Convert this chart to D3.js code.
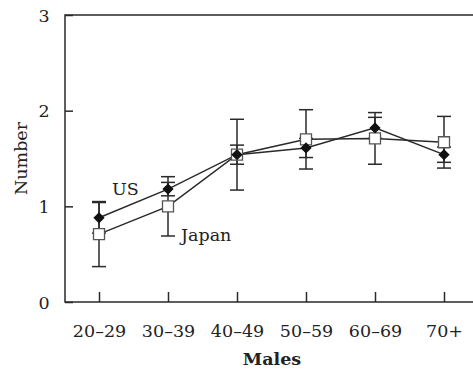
<!DOCTYPE html>
<html><head><meta charset="utf-8">
<script src="https://cdn.jsdelivr.net/npm/d3@7"></script>
<style>body{margin:0;background:#fff}svg{display:block}text{font-family:"DejaVu Serif",serif;fill:#222}</style>
</head><body><svg id="c" width="473" height="372"></svg>
<script>
const categories = ["20\u201329","30\u201339","40\u201349","50\u201359","60\u201369","70+"];
const usValues = [0.88, 1.18, 1.54, 1.61, 1.82, 1.54];
const usErrors = [0.16, 0.07, 0.10, 0.10, 0.11, 0.08];
const japanValues = [0.71, 1.00, 1.54, 1.70, 1.71, 1.67];
const japanErrors = [0.34, 0.31, 0.37, 0.31, 0.27, 0.27];
const yTicks = [0, 1, 2, 3];

const svg = d3.select("#c");
const L = 65, R = 473, T = 15, B = 302;
const x = d3.scalePoint().domain(categories).range([99, 444]);
const y = d3.scaleLinear().domain([0, 3]).range([B, T]);
const ink = "#2a2a2a";
const FS = "17.5px";

svg.append("path").attr("d", `M${R},${T}H${L}V${B}H${R}`).attr("fill","none").attr("stroke",ink).attr("stroke-width",1.5);

const yAxis = d3.axisRight(y).tickValues(yTicks).tickSize(8).tickFormat(d3.format("d"));
const gy = svg.append("g").attr("transform",`translate(${L},0)`).call(yAxis);
gy.select(".domain").remove();
gy.selectAll("line").attr("stroke",ink).attr("stroke-width",1.5);
gy.selectAll("text").attr("x",-21).attr("text-anchor","middle").attr("dy","0.36em").style("font-size",FS).style("font-family","DejaVu Serif");

const xAxis = d3.axisTop(x).tickSize(10).tickFormat(d=>d);
const gx = svg.append("g").attr("transform",`translate(0,${B})`).call(xAxis);
gx.select(".domain").remove();
gx.selectAll("line").attr("stroke",ink).attr("stroke-width",1.5);
gx.selectAll("text").attr("y",35).attr("dy",0).style("font-size",FS).style("font-family","DejaVu Serif");

svg.append("text").attr("x",272).attr("y",365).attr("text-anchor","middle").style("font-size",FS).style("font-weight","bold").text("Males");
svg.append("text").attr("transform",`translate(27,${(T+B)/2}) rotate(-90)`).attr("text-anchor","middle").style("font-size",FS).text("Number");

const series = [
  {name:"Japan", v: japanValues, e: japanErrors, size: 121, rot: 0, fill:"#fff", stroke:"#555"},
  {name:"US", v: usValues, e: usErrors, size: 44, rot: 45, fill:"#111", stroke:"#111"}
];
const line = d3.line().x((d,i)=>x(categories[i])).y(d=>y(d));
series.forEach(s=>{
  const g = svg.append("g");
  s.v.forEach((v,i)=>{
    const cx = x(categories[i]);
    g.append("line").attr("x1",cx).attr("x2",cx).attr("y1",y(v-s.e[i])).attr("y2",y(v+s.e[i])).attr("stroke",ink).attr("stroke-width",1.5);
    [v-s.e[i], v+s.e[i]].forEach(w=>g.append("line").attr("x1",cx-7).attr("x2",cx+7).attr("y1",y(w)).attr("y2",y(w)).attr("stroke",ink).attr("stroke-width",1.5));
  });
});
series.forEach(s=>{
  svg.append("path").datum(s.v).attr("d",line).attr("fill","none").attr("stroke",ink).attr("stroke-width",1.5);
});
series.forEach(s=>{
  svg.append("g").selectAll("path").data(s.v).join("path")
    .attr("transform",(d,i)=>`translate(${x(categories[i])},${y(d)}) rotate(${s.rot})`)
    .attr("d",d3.symbol().type(d3.symbolSquare).size(s.size))
    .attr("fill",s.fill).attr("stroke",s.stroke).attr("stroke-width",1.3);
});
svg.append("text").attr("x",112).attr("y",195).style("font-size",FS).text("US");
svg.append("text").attr("x",181).attr("y",241).style("font-size",FS).text("Japan");
</script></body></html>
